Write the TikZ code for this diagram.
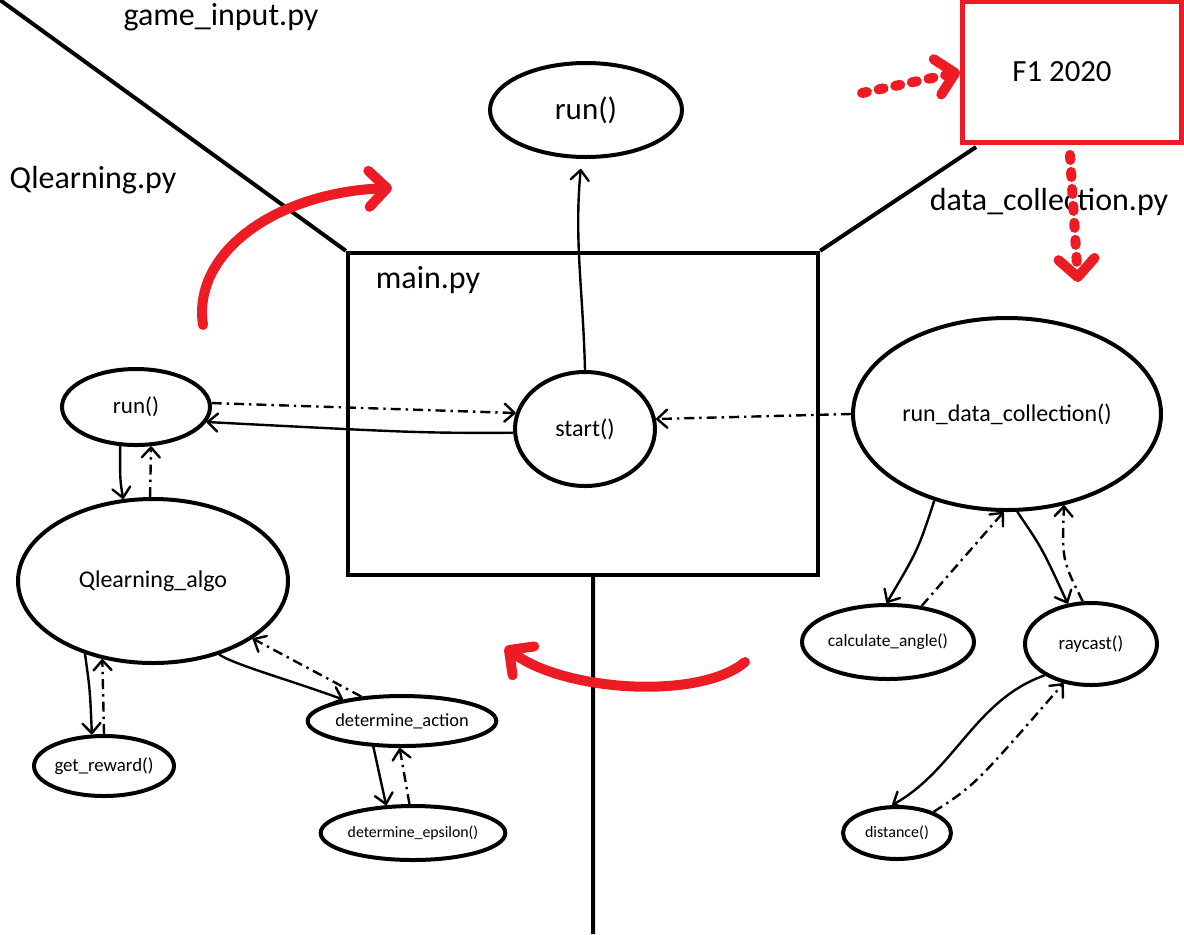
\documentclass[tikz,border=0pt]{standalone}
\usepackage{fontspec}
\setmainfont{Carlito}
\usetikzlibrary{shapes.geometric,arrows.meta}
\definecolor{pen}{RGB}{237,28,36}
\begin{document}
\begin{tikzpicture}[x=0.5pt,y=-0.5pt,
    fn/.style={draw,ellipse,line width=2pt,inner sep=0pt},
    call/.style={line width=1.2pt,-{Straight Barb[length=5pt,width=9pt,round]}},
    back/.style={call,dash pattern=on 5pt off 2.5pt on 1.2pt off 2.5pt},
    marker/.style={pen,line width=5pt,line cap=round,-{Straight Barb[length=9pt,width=18pt,round]}},
    dotty/.style={marker,dash pattern=on 2.5pt off 6pt},
    sz/.style={font=\fontsize{#1}{#1}\selectfont}]
  \useasboundingbox (0,0) rectangle (1184,934);
  \node[draw,line width=2.2pt,minimum width=235pt,minimum height=161pt] (mainbox) at (583,414) {};
  \node[draw=pen,line width=2.5pt,minimum width=109.5pt,minimum height=70.5pt,sz=15.4] (f1) at (1072,72) {F1 2020\hspace*{10pt}};
  \coordinate (stem) at (593,934);
  \draw[line width=2pt]
    (0,0) -- (mainbox.north west)
    (mainbox.north east) -- (976,147)
    (mainbox.south -| stem) -- (stem);
  \node[sz=16] (gamefile) at (221,17) {game\_input.py};
  \node[sz=16] (qfile) at (93,180) {Qlearning.py};
  \node[sz=16] (datafile) at (1049,202) {data\_collection.py};
  \node[sz=16] (mainfile) at (428,280) {main.py};
  \node[fn,minimum width=96pt,minimum height=47pt,sz=15.5] (toprun) at (586,110) {run()};
  \node[fn,minimum width=70pt,minimum height=57pt,sz=12] (start) at (585,429) {start()};
  \node[fn,minimum width=74pt,minimum height=38pt,sz=11.5] (lrun) at (136,407) {run()};
  \node[fn,minimum width=135pt,minimum height=82pt,sz=12] (qalgo) at (153,581) {Qlearning\_algo};
  \node[fn,minimum width=68pt,minimum height=30pt,sz=9.4] (reward) at (104,766) {get\_reward()};
  \node[fn,minimum width=87pt,minimum height=25pt,sz=9.2] (action) at (402,721) {determine\_action};
  \node[fn,minimum width=84pt,minimum height=27pt,sz=7.9] (epsilon) at (413,833) {determine\_epsilon()};
  \node[fn,minimum width=154pt,minimum height=96pt,sz=12] (rdc) at (1007,414) {run\_data\_collection()};
  \node[fn,minimum width=86pt,minimum height=37pt,sz=8.7] (angle) at (888,642) {calculate\_angle()};
  \node[fn,minimum width=66pt,minimum height=41pt,sz=9.4] (raycast) at (1091,644) {raycast()};
  \node[fn,minimum width=54pt,minimum height=26pt,sz=8] (distance) at (897,833) {distance()};
  \draw[call,shorten >=5pt] (start.90) .. controls (583,290) and (574,240) .. (toprun.-95);
  \draw[back] (lrun.3) -- (start.167);
  \draw[call] (start.183) .. controls (420,433) .. (lrun.-12);
  \draw[call] (lrun.-112) .. controls (120,480) .. (qalgo.110);
  \draw[back] (qalgo.92) -- (lrun.-69);
  \draw[call] (qalgo.-133) .. controls (90,690) .. (reward.111);
  \draw[back] (reward.90) -- (qalgo.-123);
  \draw[call] (qalgo.-48) .. controls (235,665) and (290,680) .. (action.160);
  \draw[back] (action.149) -- (qalgo.-30);
  \draw[call] (action.-138) -- (epsilon.134);
  \draw[back] (epsilon.97) -- (action.-95);
  \draw[back] (rdc.180) -- (start.8);
  \draw[call] (rdc.-130) .. controls (918,550) .. (angle.92);
  \draw[back] (angle.47) -- (rdc.-92);
  \draw[call] (rdc.-84) .. controls (1042,548) .. (raycast.120);
  \draw[back] (raycast.101) .. controls (1062,560) .. (rdc.-58);
  \draw[call] (raycast.-146) .. controls (975,700) and (955,770) .. (distance.100);
  \draw[back] (distance.30) .. controls (975,785) .. (raycast.-125);
  \coordinate (swoopfrom) at (203,325);
  \coordinate (swoopto) at (392,188);
  \coordinate (smilefrom) at (745,662);
  \coordinate (smileto) at (505,647);
  \draw[marker] (swoopfrom) .. controls (192,250) and (280,192) .. (swoopto);
  \draw[marker] (smilefrom) .. controls (700,700) and (565,692) .. (smileto);
  \draw[dotty] (862,93) -- (f1.west);
  \draw[dotty] (f1.south -| 1070,0) ++(0,10) -- (1078,282);
\end{tikzpicture}
\end{document}
